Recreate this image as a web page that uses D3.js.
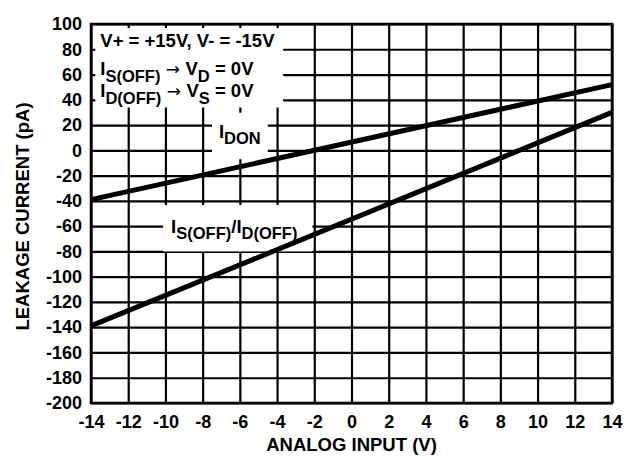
<!DOCTYPE html>
<html>
<head>
<meta charset="utf-8">
<script src="https://cdn.jsdelivr.net/npm/d3@7"></script>
<style>
body { margin: 0; background: #fff; }
svg text { font-family: "Liberation Sans", Arial, Helvetica, sans-serif; font-weight: bold; fill: #000; }
</style>
</head>
<body>
<div id="chart"></div>
<script>
// analog input (V) at both ends of the lines
var inputV = [-14, 14];
// I_D(ON) leakage, pA
var iDon = [-39, 52];
// I_S(OFF) / I_D(OFF) leakage, pA
var iOff = [-139, 30];

var xTicks = [-14, -12, -10, -8, -6, -4, -2, 0, 2, 4, 6, 8, 10, 12, 14];
var yTicks = [100, 80, 60, 40, 20, 0, -20, -40, -60, -80, -100, -120, -140, -160, -180, -200];

var width = 638, height = 456;
var margin = {top: 24, right: 26, bottom: 53, left: 91};
var gW = width - margin.left - margin.right;
var gH = height - margin.top - margin.bottom;

var svg = d3.select('#chart').append('svg')
    .attr('width', width)
    .attr('height', height);

var g = svg.append('g')
    .attr('transform', `translate(${margin.left},${margin.top})`);

var x = d3.scaleLinear().domain([-14, 14]).range([0, gW]);
var y = d3.scaleLinear().domain([-200, 100]).range([gH, 0]);

// plain hyphen for negatives, like the original
var fmt = function(d) { return String(d); };

// grid + ticks
var xAxis = g.append('g')
    .attr('transform', `translate(0,${gH})`)
    .call(d3.axisBottom(x).tickValues(xTicks).tickFormat(fmt).tickSizeInner(-gH).tickSizeOuter(0).tickPadding(12));
var yAxis = g.append('g')
    .call(d3.axisLeft(y).tickValues(yTicks).tickFormat(fmt).tickSizeInner(-gW).tickSizeOuter(0).tickPadding(9));

[xAxis, yAxis].forEach(function(a) {
    a.attr('font-family', null);
    a.select('.domain').remove();
    a.selectAll('line').attr('stroke', '#000').attr('stroke-width', 2.2);
    a.selectAll('text').attr('font-size', 18);
});

g.append('rect')
    .attr('width', gW)
    .attr('height', gH)
    .attr('fill', 'none')
    .attr('stroke', '#000')
    .attr('stroke-width', 2.5);

// axis titles
svg.append('text')
    .attr('x', margin.left + gW / 2)
    .attr('y', 451)
    .attr('text-anchor', 'middle')
    .attr('font-size', 18.5)
    .text('ANALOG INPUT (V)');

svg.append('text')
    .attr('transform', `translate(29,${margin.top + gH / 2 + 3}) rotate(-90)`)
    .attr('text-anchor', 'middle')
    .attr('font-size', 18.5)
    .text('LEAKAGE CURRENT (pA)');

// annotations with white boxes over the grid
var annG = g.append('g');
var SUB = 6.5;

function label(lines, pad, anchor) {
    var grp = annG.append('g');
    var box = grp.append('rect').attr('fill', '#fff');
    var t = grp.append('text').attr('font-size', 18.5).attr('text-anchor', anchor || 'start');
    lines.forEach(function(ln) {
        var shift = 0;
        var first = true;
        ln.parts.forEach(function(p) {
            var want = p.sub ? SUB : 0;
            var s = t.append('tspan').text(p.t);
            if (first) s.attr('x', ln.x).attr('y', ln.y + want);
            else if (want !== shift) s.attr('dy', want - shift);
            first = false;
            shift = want;
            if (p.sub) s.attr('font-size', 16.5);
            if (p.arrow) s.attr('font-weight', 'normal').style('font-family', '"DejaVu Sans", sans-serif').attr('font-size', 17);
        });
    });
    var bb = t.node().getBBox();
    box.attr('x', bb.x - pad[3])
        .attr('y', bb.y - pad[0])
        .attr('width', bb.width + pad[1] + pad[3])
        .attr('height', bb.height + pad[0] + pad[2]);
}

label([
    {x: x(-13.5), y: y(81.8), parts: [{t: 'V+ = +15V, V- = -15V'}]},
    {x: x(-13.5), y: y(59.6), parts: [{t: 'I'}, {t: 'S(OFF)', sub: true}, {t: ' \u2192 ', arrow: true}, {t: 'V'}, {t: 'D', sub: true}, {t: ' = 0V'}]},
    {x: x(-13.5), y: y(42.2), parts: [{t: 'I'}, {t: 'D(OFF)', sub: true}, {t: ' \u2192 ', arrow: true}, {t: 'V'}, {t: 'S', sub: true}, {t: ' = 0V'}]}
], [2, 8, 1, 5]);

label([
    {x: x(-6), y: y(10), parts: [{t: 'I'}, {t: 'DON', sub: true}]}
], [8, 7, 12, 7], 'middle');

label([
    {x: x(-6.3), y: y(-65.4), parts: [{t: 'I'}, {t: 'S(OFF)', sub: true}, {t: '/I'}, {t: 'D(OFF)', sub: true}]}
], [11, 15, 9, 8], 'middle');

// data lines
var line = d3.line()
    .x(function(d) { return x(d[0]); })
    .y(function(d) { return y(d[1]); });

[iDon, iOff].forEach(function(vals) {
    g.append('path')
        .datum(inputV.map(function(v, i) { return [v, vals[i]]; }))
        .attr('d', line)
        .attr('fill', 'none')
        .attr('stroke', '#000')
        .attr('stroke-width', 5);
});
</script>
</body>
</html>
